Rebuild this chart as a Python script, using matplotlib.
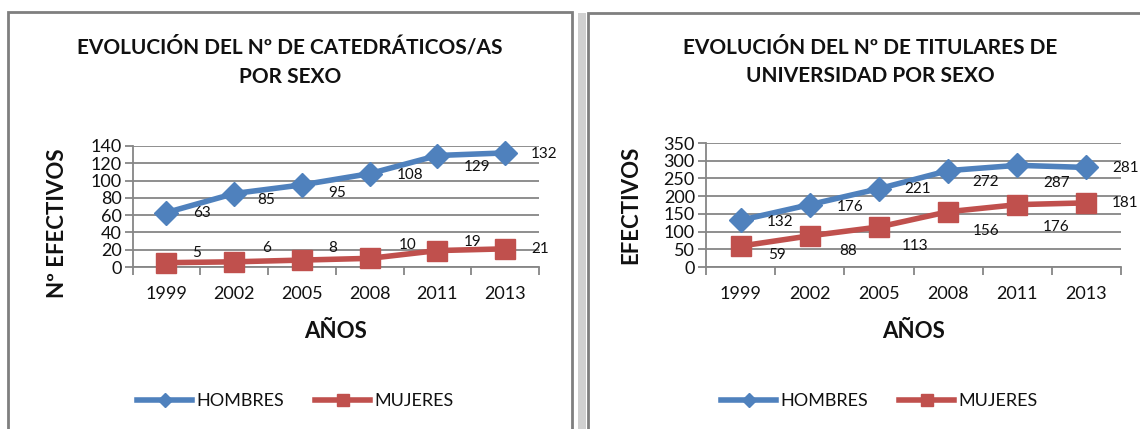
import numpy as np
import matplotlib
matplotlib.use("Agg")
import matplotlib.pyplot as plt
from matplotlib.patches import Rectangle
from matplotlib.lines import Line2D

plt.rcParams['font.family'] = ['Lato', 'DejaVu Sans']

# data
years = ['1999', '2002', '2005', '2008', '2011', '2013']
cat_hombres = [63, 85, 95, 108, 129, 132]
cat_mujeres = [5, 6, 8, 10, 19, 21]
tit_hombres = [132, 176, 221, 272, 287, 281]
tit_mujeres = [59, 88, 113, 156, 176, 181]

# label offsets in pixels (dx, dy) - hand placed like the original
cat_h_off = [(36, 0), (32, -6), (35, -8), (40, -1), (40, -11), (39, -1)]
cat_m_off = [(30, 10), (32, 14), (31, 12), (38, 13), (35, 9), (35, 0)]
tit_h_off = [(40, -2), (40, -2), (39, 0), (38, -11), (39, -18), (39, -1)]
tit_m_off = [(36, -9), (38, -15), (36, -19), (38, -19), (39, -22), (39, 0)]

BLUE = '#4F81BD'
RED = '#C0504D'
GRID = '#868686'
TXT = '#111111'

W, H = 1140, 429
fig = plt.figure(figsize=(W / 100, H / 100), dpi=100)

# chart frames (behind the axes)
fig.patches.append(Rectangle((578 / W, -0.05), 8 / W, 1.05 - 13 / H,
                             transform=fig.transFigure, facecolor='#d0d0d0',
                             edgecolor='none', zorder=-3))
fig.patches.append(Rectangle((8 / W, -0.05), 564 / W, 1.05 - 12 / H,
                             transform=fig.transFigure, facecolor='white',
                             edgecolor='#7f7f7f', linewidth=2, zorder=-2))
fig.patches.append(Rectangle((588 / W, -0.05), 600 / W, 1.05 - 13 / H,
                             transform=fig.transFigure, facecolor='white',
                             edgecolor='#7f7f7f', linewidth=2, zorder=-2))


def draw(rect, hombres, mujeres, h_off, m_off, ymax, ystep, title, ylabel,
         title_x, ylab_xy, xlab_y, leg_x):
    ax = fig.add_axes(rect)
    ax.patch.set_alpha(0)
    x = np.arange(len(years))
    ax.plot(x, hombres, color=BLUE, lw=4, marker='D', ms=12, zorder=3,
            label='HOMBRES', clip_on=False)
    ax.plot(x, mujeres, color=RED, lw=4, marker='s', ms=15, zorder=3,
            label='MUJERES', clip_on=False)
    for xi, v, (dx, dy) in zip(x, hombres, h_off):
        ax.annotate(str(v), (xi, v), xytext=(dx, dy), textcoords='offset pixels',
                    ha='center', va='center', fontsize=11, color=TXT)
    for xi, v, (dx, dy) in zip(x, mujeres, m_off):
        ax.annotate(str(v), (xi, v), xytext=(dx, dy), textcoords='offset pixels',
                    ha='center', va='center', fontsize=11, color=TXT)
    ax.set_xlim(-0.5, len(years) - 0.5)
    ax.set_ylim(0, ymax)
    ax.set_yticks(np.arange(0, ymax + 1, ystep))
    ax.set_xticks(x)
    ax.set_xticklabels(years)
    ax.set_xticks(np.arange(-0.5, len(years)), minor=True)
    ax.tick_params(axis='x', which='major', length=0, labelsize=13, pad=14,
                   labelcolor=TXT)
    ax.tick_params(axis='x', which='minor', length=6, width=1.3, color=GRID,
                   direction='out')
    ax.tick_params(axis='y', length=6, width=1.3, color=GRID, labelsize=13,
                   pad=2, labelcolor=TXT)
    ax.grid(axis='y', color=GRID, lw=1.3)
    ax.set_axisbelow(True)
    for s in ['top', 'right']:
        ax.spines[s].set_visible(False)
    for s in ['left', 'bottom']:
        ax.spines[s].set_color(GRID)
        ax.spines[s].set_linewidth(1.3)
    ax.set_ylabel(ylabel, fontsize=16, fontweight='bold', color=TXT)
    ax.yaxis.set_label_coords(*ylab_xy)
    ax.set_xlabel('AÑOS', fontsize=16, fontweight='bold', color=TXT)
    ax.xaxis.set_label_coords(0.5, xlab_y)
    fig.text(title_x / W, 1 - 62 / H, title, ha='center', va='center',
             fontsize=15, fontweight='bold', linespacing=1.55, color=TXT)
    handles = [Line2D([], [], color=BLUE, lw=4, marker='D', ms=7),
               Line2D([], [], color=RED, lw=4, marker='s', ms=8)]
    fig.legend(handles, ['HOMBRES', 'MUJERES'], loc='center left',
               bbox_to_anchor=(leg_x / W, 1 - 401 / H), ncol=2, frameon=False,
               fontsize=13, handlelength=3.05, handletextpad=0.25,
               columnspacing=1.7, borderpad=0, labelcolor=TXT)
    return ax


draw([132.6 / W, 1 - 267 / H, 406.4 / W, 121 / H], cat_hombres, cat_mujeres,
     cat_h_off, cat_m_off, 140, 20,
     'EVOLUCIÓN DEL Nº DE CATEDRÁTICOS/AS\nPOR SEXO', 'Nº EFECTIVOS',
     290, (-0.159, 0.364), -0.445, 128)
draw([706 / W, 1 - 267 / H, 415 / W, 124 / H], tit_hombres, tit_mujeres,
     tit_h_off, tit_m_off, 350, 50,
     'EVOLUCIÓN DEL Nº DE TITULARES DE\nUNIVERSIDAD POR SEXO', 'EFECTIVOS',
     870, (-0.157, 0.5), -0.435, 712)

fig.savefig('out.png', dpi=100)
